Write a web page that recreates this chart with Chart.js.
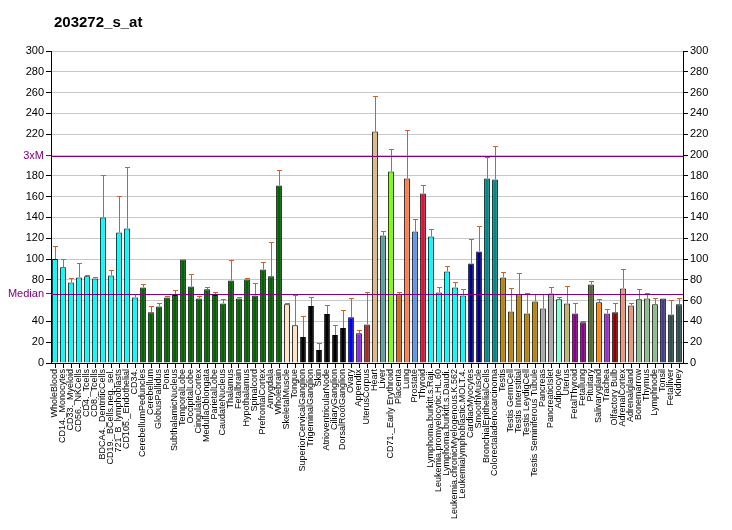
<!DOCTYPE html>
<html>
<head>
<meta charset="utf-8">
<script src="https://cdn.jsdelivr.net/npm/chart.js@4"></script>
<style>
  html, body { margin: 0; padding: 0; background: #fff; }
  #wrap { width: 732px; height: 530px; position: relative; }
</style>
</head>
<body>
<div id="wrap"><canvas id="myChart"></canvas></div>
<script>
var title = "203272_s_at";

var labels = ["WholeBlood", "CD14._Monocytes", "CD33._Myeloid", "CD56._NKCells", "CD4._Tcells", "CD8._Tcells",
    "BDCA4._DentriticCells", "CD19._BCells.neg._sel.", "721_B_lymphoblasts", "CD105._Endothelial", "CD34.",
    "CerebellumPeduncles", "Cerebellum", "GlobusPallidus", "Pons", "SubthalamicNucleus", "TemporalLobe",
    "OccipitalLobe", "CingulateCortex", "MedullaOblongata", "ParietalLobe", "CaudateNucleus", "Thalamus",
    "Fetalbrain", "Hypothalamus", "Spinalcord", "PrefrontalCortex", "Amygdala", "Wholebrain",
    "SkeletalMuscle", "Tongue", "SuperiorCervicalGanglion", "TrigeminalGanglion", "Skin",
    "AtrioventricularNode", "CiliaryGanglion", "DorsalRootGanglion", "Ovary", "Appendix", "UterusCorpus",
    "Heart", "Liver", "CD71._Early Erythroid", "Placenta", "Lung", "Prostate", "Thyroid",
    "Lymphoma.burkitt.s.Raji.", "Leukemia.promyelocytic.HL.60", "Lymphoma.burkitt.s.Daudi.",
    "Leukemia.chronicMyelogenous.K.562", "Leukemialymphoblastic.MOLT.4.", "CardiacMyocytes",
    "SmoothMuscle", "BronchialEpithelialCells", "Colorectaladenocarcinoma", "Testis", "Testis GermCell",
    "Testis Interstitial", "Testis LeydigCell", "Testis Seminiferous Tubule", "Pancreas", "PancreaticIslet",
    "Adipocyte", "Uterus", "FetalThyroid", "Fetallung", "Pituitary", "Salivarygland", "Trachea",
    "Olfactory Bulb", "AdrenalCortex", "Adrenalgland", "Bonemarrow", "Thymus", "Lymphnode", "Tonsil",
    "Fetalliver", "Kidney"];

var values = [100, 92, 77.5, 82.3, 83.3, 81.3, 140, 84.2, 125.5, 129.4, 63.1,
    72.7, 48.7, 54.4, 63.1, 65.3, 99.6, 73.6, 62.1, 70.8, 65.3, 57.3, 79.4, 62.1, 80.4, 65, 90, 83.3, 170.7,
    56.4, 36.2, 25, 54.8, 12.5, 47.1, 26.9, 33.6, 43.9, 28.5, 37.1,
    222.5, 122.6, 184.1, 66, 177.4, 126.5, 163, 121.7, 67.9, 88.1, 72.7, 65, 95.7, 107.3, 177.4, 176.4,
    82.3, 49.6, 66, 47.7, 59.2, 52.5, 66.9, 61.2, 57.3, 47.7, 39.1, 75.6, 58.3, 47.7, 48.7, 71.7, 55.4,
    61.2, 62.1, 56.4, 62.1, 46.7, 56.4];

// top of each error bar
var errHigh = [112.7, 99.6, 81.3, 95.7, 84.2, 82.9, 181.2, 89, 160.1, 188, 66.6,
    76.2, 55.1, 57.3, 64.7, 69.8, 99.6, 85.2, 64.7, 72.7, 68.5, 61.2, 98.6, 63.1, 81.3, 76.5, 96.7, 115.9, 185.1,
    58, 65, 44.8, 63.1, 18.9, 55.4, 36.2, 50.6, 62.1, 31.4, 67.9,
    257.1, 127.4, 206.2, 67.9, 224.5, 138, 171.6, 128.4, 72.7, 92.9, 77.5, 70.8, 118.8, 132.2, 197.6, 209.1,
    87.1, 71.7, 86.1, 66.9, 66.6, 66.6, 72.7, 63.7, 73.6, 57.3, 40.7, 78.5, 61.2, 51.6, 57.3, 90, 57.3,
    70.8, 66.9, 62.1, 62.1, 60.2, 62.1];

var median = 66.5;
var threeM = 199.5;
var yTicks = [0, 20, 40, 60, 80, 100, 120, 140, 160, 180, 200, 220, 240, 260, 280, 300];

function rep(c, n) { var a = []; for (var i = 0; i < n; i++) a.push(c); return a; }
var colors = [].concat(
    rep("#00FFFF", 11), rep("#006400", 18), rep("#FFE4C4", 2), rep("#000000", 6),
    ["#0000FF", "#8A2BE2", "#A52A2A", "#DEB887", "#5F9EA0", "#7FFF00", "#D2691E", "#FF7F50", "#6495ED", "#DC143C"],
    rep("#00FFFF", 5), rep("#00008B", 2), rep("#008B8B", 2), rep("#B8860B", 5),
    rep("#A9A9A9", 2), ["#7FFFD4", "#BDB76B"], rep("#8B008B", 2),
    ["#556B2F", "#FF8C00", "#9932CC", "#8B0000"], rep("#E9967A", 2), rep("#8FBC8F", 3),
    ["#483D8B"], rep("#2F4F4F", 2)
);

var extras = {
    id: "extras",
    afterDatasetsDraw: function (chart) {
        var ctx = chart.ctx, x = chart.scales.x, y = chart.scales.y, a = chart.chartArea;
        ctx.save();
        // error bars
        ctx.strokeStyle = "#C8642A";
        ctx.lineWidth = 1;
        for (var i = 0; i < values.length; i++) {
            if (errHigh[i] <= values[i]) continue;
            var cx = Math.round(x.getPixelForValue(i)) + 0.5;
            var y0 = y.getPixelForValue(values[i]);
            var y1 = Math.round(y.getPixelForValue(errHigh[i])) + 0.5;
            ctx.beginPath();
            ctx.moveTo(cx, y0);
            ctx.lineTo(cx, y1);
            ctx.moveTo(cx - 2.5, y1);
            ctx.lineTo(cx + 2.5, y1);
            ctx.stroke();
        }
        // median and 3xM lines
        ctx.strokeStyle = "#800080";
        [median, threeM].forEach(function (v) {
            var yy = Math.round(y.getPixelForValue(v)) + 0.5;
            ctx.beginPath();
            ctx.moveTo(a.left, yy);
            ctx.lineTo(a.right, yy);
            ctx.stroke();
        });
        // title
        ctx.fillStyle = "#000";
        ctx.font = "bold 15px 'Liberation Sans', Arial, sans-serif";
        ctx.textBaseline = "alphabetic";
        ctx.fillText(title, 54, 27);
        ctx.restore();
    }
};

function leftLabel(v) {
    if (v === threeM) return "3xM";
    if (v === median) return "Median";
    return String(v);
}
function isRef(v) { return v === threeM || v === median; }

var myChart = new Chart(document.getElementById("myChart").getContext("2d"), {
    type: "bar",
    data: {
        labels: labels,
        datasets: [{
            data: values,
            backgroundColor: colors,
            borderColor: "#000",
            borderWidth: 1,
            barPercentage: 0.72,
            categoryPercentage: 1
        }]
    },
    options: {
        responsive: true,
        maintainAspectRatio: false,
        animation: false,
        layout: { padding: { top: 51, left: 0, right: 0, bottom: 0 } },
        plugins: {
            legend: { display: false },
            tooltip: { enabled: false },
            title: { display: false }
        },
        scales: {
            x: {
                offset: true,
                grid: { offset: false, drawOnChartArea: false, tickLength: 5, color: "#000" },
                border: { display: true, color: "#000" },
                ticks: {
                    autoSkip: false, maxRotation: 90, minRotation: 90, padding: 1,
                    color: "#000",
                    font: { family: "'Liberation Sans', Arial, sans-serif", size: 9 }
                },
                afterFit: function (s) { s.height = 167; }
            },
            y: {
                position: "left",
                min: 0, max: 300,
                afterBuildTicks: function (s) {
                    var t = yTicks.filter(function (v) { return v !== 60 && v !== 200; });
                    t.push(median); t.push(threeM);
                    s.ticks = t.sort(function (a, b) { return a - b; }).map(function (v) { return { value: v }; });
                },
                grid: {
                    drawOnChartArea: false, tickLength: 5,
                    tickColor: function (c) { return c.tick && isRef(c.tick.value) ? "#800080" : "#000"; }
                },
                border: { display: true, color: "#000" },
                ticks: {
                    padding: 2,
                    callback: function (v) { return leftLabel(v); },
                    color: function (c) { return c.tick && isRef(c.tick.value) ? "#800080" : "#000"; },
                    font: { family: "'Liberation Sans', Arial, sans-serif", size: 11 }
                },
                afterFit: function (s) { s.width = 51; }
            },
            y2: {
                position: "right",
                min: 0, max: 300,
                afterBuildTicks: function (s) {
                    s.ticks = yTicks.map(function (v) { return { value: v }; });
                },
                grid: { drawOnChartArea: true, color: "#C8C8C8", tickLength: 5, tickColor: "#000" },
                border: { display: true, color: "#000" },
                ticks: {
                    padding: 2,
                    color: "#000",
                    font: { family: "'Liberation Sans', Arial, sans-serif", size: 11 }
                },
                afterFit: function (s) { s.width = 49; }
            }
        }
    },
    plugins: [extras]
});
</script>
</body>
</html>
